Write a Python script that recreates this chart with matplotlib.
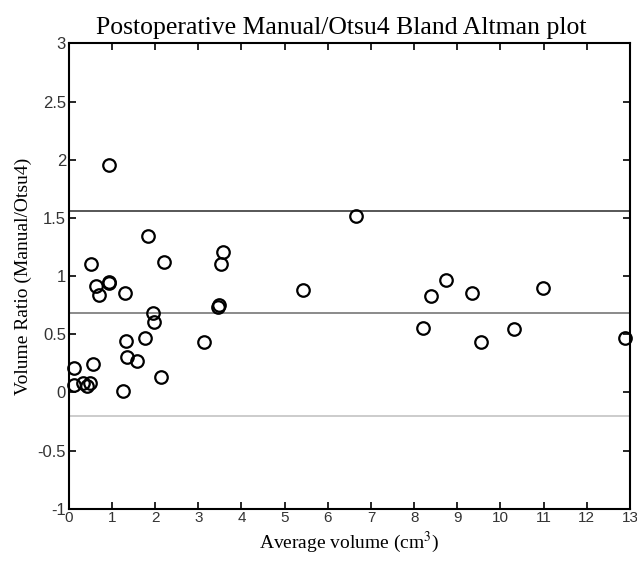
import numpy as np
import matplotlib
matplotlib.use("Agg")
import matplotlib.pyplot as plt

# average volume (cm^3) and volume ratio (Manual/Otsu4)
avg_volume = [0.94, 1.83, 0.52, 2.21, 3.58, 3.53, 0.63, 0.92, 0.94, 0.69,
              1.30, 1.96, 1.98, 3.45, 3.48, 1.33, 1.77, 3.14, 0.12, 0.56,
              1.34, 1.59, 2.14, 1.26, 0.11, 0.32, 0.42, 0.49, 5.42, 6.65,
              8.73, 8.39, 9.35, 10.99, 8.20, 9.54, 10.32, 12.88]
vol_ratio = [1.95, 1.34, 1.10, 1.12, 1.21, 1.10, 0.91, 0.95, 0.94, 0.84,
             0.85, 0.68, 0.605, 0.73, 0.75, 0.44, 0.47, 0.43, 0.21, 0.245,
             0.30, 0.27, 0.135, 0.015, 0.064, 0.083, 0.055, 0.078, 0.88, 1.52,
             0.97, 0.83, 0.85, 0.90, 0.556, 0.436, 0.545, 0.47]

mean_ratio = 0.68
upper_loa = 1.56
lower_loa = -0.20

xticks = list(range(0, 14))
yticks = [-1, -0.5, 0, 0.5, 1, 1.5, 2, 2.5, 3]
ytick_labels = ['-1', '-0.5', '0', '0.5', '1', '1.5', '2', '2.5', '3']

plt.rcParams['mathtext.fontset'] = 'stix'

fig = plt.figure(figsize=(6.37, 5.63), dpi=100)
ax = fig.add_axes([0.108, 0.0965, 0.881, 0.8265])

ax.axhline(upper_loa, color='#3a3a3a', lw=1.2, zorder=1)
ax.axhline(mean_ratio, color='#777777', lw=1.2, zorder=1)
ax.axhline(lower_loa, color='#c4c4c4', lw=1.2, zorder=1)

ax.plot(avg_volume, vol_ratio, 'o', mfc='none', mec='black', ms=9, mew=1.6,
        clip_on=False, zorder=3)

ax.set_xlim(0, 13)
ax.set_ylim(-1, 3)
ax.set_xticks(xticks)
ax.set_yticks(yticks)
ax.set_yticklabels(ytick_labels)
ax.tick_params(direction='in', top=True, right=True, length=5, width=1.2,
               labelsize=12, colors='black', labelcolor='#333333', pad=2)
ax.tick_params(axis='x', labelsize=11)
for lbl in ax.get_xticklabels() + ax.get_yticklabels():
    lbl.set_family('Liberation Sans')
for sp in ax.spines.values():
    sp.set_linewidth(1.5)

ax.set_title('Postoperative Manual/Otsu4 Bland Altman plot',
             family='Liberation Serif', fontsize=18.5, pad=7, x=0.485)
ax.set_xlabel('Average volume (cm$^3$)', family='Liberation Serif', fontsize=14,
              labelpad=3)
ax.set_ylabel('Volume Ratio (Manual/Otsu4)', family='Liberation Serif',
              fontsize=14, labelpad=4)

fig.savefig('out.png', dpi=100)
